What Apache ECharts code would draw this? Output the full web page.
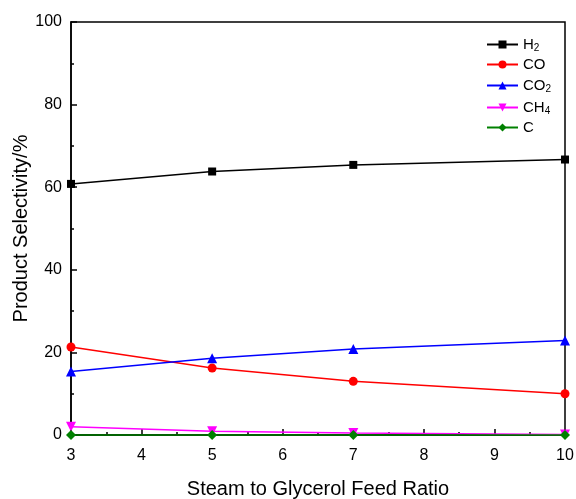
<!DOCTYPE html>
<html>
<head>
<meta charset="utf-8">
<script src="https://cdn.jsdelivr.net/npm/echarts@6/dist/echarts.min.js"></script>
<style>html,body{margin:0;padding:0;background:#fff}#c{width:576px;height:499px}</style>
</head>
<body>
<div id="c"></div>
<script>
const ratios = [3, 5, 7, 10];
const h2 = [60.8, 63.8, 65.4, 66.7];
const co = [21.3, 16.2, 13.0, 10.0];
const co2 = [15.4, 18.6, 20.8, 22.9];
const ch4 = [2.0, 0.9, 0.5, 0.1];
const carbon = [0, 0, 0, 0];
const seriesNames = ['H2', 'CO', 'CO2', 'CH4', 'C'];
const legendLabels = {
  'H2': '{t|H}{s|2}',
  'CO': '{t|CO}',
  'CO2': '{t|CO}{s|2}',
  'CH4': '{t|CH}{s|4}',
  'C': '{t|C}'
};
const xTitle = 'Steam to Glycerol Feed Ratio';
const yTitle = 'Product Selectivity/%';

const chart = echarts.init(document.getElementById('c'));
const font = 'Liberation Sans, Arial, sans-serif';
function pts(vals) { return ratios.map((x, i) => [x, vals[i]]); }
function mk(name, vals, color, symbol, size, rotate) {
  return {
    name: name, type: 'line', data: pts(vals), color: color,
    symbol: symbol, symbolSize: size, symbolRotate: rotate || 0,
    showSymbol: true, clip: false,
    lineStyle: { color: color, width: 1.5 },
    itemStyle: { color: color },
    z: 3
  };
}
chart.setOption({
  animation: false,
  backgroundColor: '#fff',
  grid: { left: 71, right: 11, top: 22, bottom: 64, show: true, borderColor: '#000', borderWidth: 1.5, containLabel: false, outerBoundsMode: 'none' },
  legend: {
    orient: 'vertical', left: 481, top: 30,
    itemWidth: 31, itemHeight: 10, itemGap: 4,
    data: seriesNames,
    formatter: n => legendLabels[n],
    textStyle: {
      rich: {
        t: { fontFamily: font, fontSize: 15, color: '#000', lineHeight: 17 },
        s: { fontFamily: font, fontSize: 10, color: '#000', verticalAlign: 'bottom', padding: [8, 0, 0, 0], lineHeight: 17 }
      }
    }
  },
  xAxis: {
    type: 'value', min: 3, max: 10, interval: 1,
    name: xTitle, nameLocation: 'middle', nameGap: 44, nameMoveOverlap: false,
    nameTextStyle: { fontFamily: font, fontSize: 20, color: '#000' },
    axisLine: { lineStyle: { color: '#000', width: 1.5 } },
    axisTick: { inside: true, length: 6, lineStyle: { color: '#000', width: 1.5 } },
    minorTick: { show: true, splitNumber: 2, length: 3, lineStyle: { color: '#000', width: 1.5 } },
    axisLabel: { fontFamily: font, fontSize: 16, color: '#000', margin: 13 },
    splitLine: { show: false }
  },
  yAxis: {
    type: 'value', min: 0, max: 100, interval: 20,
    name: yTitle, nameLocation: 'middle', nameGap: 40, nameRotate: 90, nameMoveOverlap: false,
    nameTextStyle: { fontFamily: font, fontSize: 20, color: '#000' },
    axisLine: { show: true, lineStyle: { color: '#000', width: 1.5 } },
    axisTick: { show: true, inside: true, length: 6, lineStyle: { color: '#000', width: 1.5 } },
    minorTick: { show: true, splitNumber: 2, length: 3, lineStyle: { color: '#000', width: 1.5 } },
    axisLabel: { fontFamily: font, fontSize: 16, color: '#000', margin: 9 },
    splitLine: { show: false }
  },
  series: [
    mk('H2', h2, '#000000', 'rect', 8),
    mk('CO', co, '#ff0000', 'circle', 9),
    mk('CO2', co2, '#0000ff', 'triangle', 10),
    mk('CH4', ch4, '#ff00ff', 'triangle', 10, 180),
    mk('C', carbon, '#008000', 'diamond', 10)
  ]
});
</script>
</body>
</html>
